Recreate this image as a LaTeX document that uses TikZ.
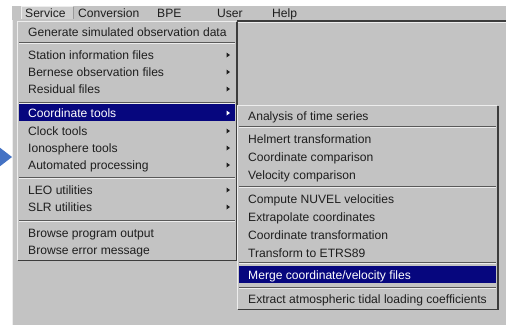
\documentclass[tikz,border=0pt]{standalone}
\usepackage{fontspec}
\setmainfont{Liberation Sans}
\definecolor{panel}{HTML}{C3C3C3}
\definecolor{navy}{HTML}{06067E}
\definecolor{ink}{HTML}{1E1E1E}
\definecolor{edgedark}{HTML}{3C3C3C}
\definecolor{edgelight}{HTML}{EDEDED}
\definecolor{pointer}{HTML}{4472C4}
\newcommand{\menufont}{\fontsize{12.1}{14}\selectfont}
\tikzset{
  item/.style={anchor=base west, inner sep=0pt, font=\menufont, text=ink},
  hitem/.style={item, text=white},
  hilite/.style={fill=navy},
}
\begin{document}
\begin{tikzpicture}[x=1pt,y=-1pt]
\useasboundingbox (0,0) rectangle (512,325);
% application background
\fill[white] (0,0) rectangle (512,325);
\fill[panel] (12,6) rectangle (506,325);
\draw[edgelight, line width=0.8pt] (12.5,20) -- (12.5,325);

% window frame behind the menus
\draw[edgedark, line width=1.2pt] (237,21) -- (506,21);
\draw[edgelight, line width=0.8pt] (238,22.5) -- (506,22.5);
\draw[edgedark, line width=1.2pt] (237,21) -- (237,105);

% menu bar with the raised "Service" entry
\fill[panel!80!white] (21,6) rectangle (73,19);
\draw[edgelight, line width=0.8pt] (21.5,19) -- (21.5,6.5) -- (73,6.5);
\draw[gray!80, line width=0.6pt] (73,6.5) -- (73,19);
\node[item] (mService)    at (25,17.5)  {Service};
\node[item] (mConversion) at (78,17.5)  {Conversion};
\node[item] (mBPE)        at (157,17.5) {BPE};
\node[item] (mUser)       at (217,17.5) {User};
\node[item] (mHelp)       at (272,17.5) {Help};

% ---------- Service drop-down ----------
\fill[panel] (17,21) rectangle (237,260);
\draw[edgelight, line width=0.8pt] (17.5,260) -- (17.5,21.5) -- (236,21.5);
\draw[edgedark, line width=1.6pt] (18,260.5) -- (237,260.5) -- (237,22);

\fill[hilite] (18.5,104) rectangle (235,121);

\foreach \y in {42,102,177,220}{
  \draw[gray!70!black, line width=0.7pt] (19,\y) -- (235,\y);
  \draw[edgelight, line width=0.7pt] (19,\y+1) -- (235,\y+1);
}

\node[item]  (sGen)   at (28,36.5)  {Generate simulated observation data};
\node[item]  (sSta)   at (28,59.5)  {Station information files};
\node[item]  (sBer)   at (28,76.5)  {Bernese observation files};
\node[item]  (sRes)   at (28,93.5)  {Residual files};
\node[hitem] (sCrd)   at (28,117.5) {Coordinate tools};
\node[item]  (sClk)   at (28,135.5) {Clock tools};
\node[item]  (sIon)   at (28,152.5) {Ionosphere tools};
\node[item]  (sAut)   at (28,169.5) {Automated processing};
\node[item]  (sLEO)   at (28,194.5) {LEO utilities};
\node[item]  (sSLR)   at (28,211.5) {SLR utilities};
\node[item]  (sOut)   at (28,237.5) {Browse program output};
\node[item]  (sErr)   at (28,254.5) {Browse error message};

% cascade markers
\foreach \y in {55,72,89,131,148,165,190,207}{
  \fill[ink] (226.5,\y-2.5) -- (230,\y) -- (226.5,\y+2.5) -- cycle;
}
\fill[white] (226.5,110.5) -- (230,113) -- (226.5,115.5) -- cycle;

% ---------- Coordinate tools submenu ----------
\fill[panel] (237,105) rectangle (498,309);
\draw[edgelight, line width=0.8pt] (237.5,309) -- (237.5,105.5) -- (497,105.5);
\draw[edgedark, line width=1.8pt] (238,309.5) -- (498,309.5) -- (498,106);

\fill[hilite] (239,266) rectangle (496,283);

\foreach \y in {126,186,262,287}{
  \draw[gray!70!black, line width=0.7pt] (239,\y) -- (496,\y);
  \draw[edgelight, line width=0.7pt] (239,\y+1) -- (496,\y+1);
}

\node[item]  (cAna) at (248,120.5) {Analysis of time series};
\node[item]  (cHel) at (248,143.5) {Helmert transformation};
\node[item]  (cCmp) at (248,161.5) {Coordinate comparison};
\node[item]  (cVel) at (248,179.5) {Velocity comparison};
\node[item]  (cNuv) at (248,203.5) {Compute NUVEL velocities};
\node[item]  (cExt) at (248,221.5) {Extrapolate coordinates};
\node[item]  (cTrf) at (248,239.5) {Coordinate transformation};
\node[item]  (cEtr) at (248,257.5) {Transform to ETRS89};
\node[hitem] (cMrg) at (248,279.5) {Merge coordinate/velocity files};
\node[item]  (cAtm) at (248,303.5) {Extract atmospheric tidal loading coefficients};

% pointer in the left margin
\fill[pointer] (-1,147) -- (12,157) -- (-1,167) -- cycle;
\end{tikzpicture}
\end{document}
